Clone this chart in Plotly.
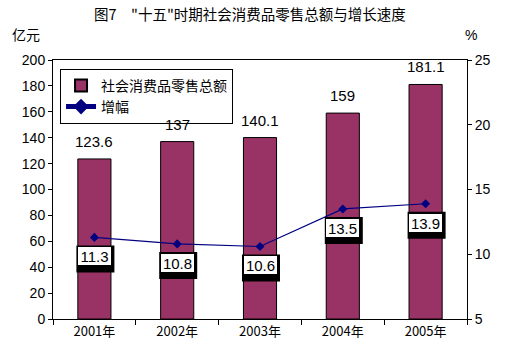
import plotly.graph_objects as go

years = ["2001年", "2002年", "2003年", "2004年", "2005年"]
sales = [123.6, 137, 140.1, 159, 181.1]
growth = [11.3, 10.8, 10.6, 13.5, 13.9]
sales_labels = ["123.6", "137", "140.1", "159", "181.1"]
growth_labels = ["11.3", "10.8", "10.6", "13.5", "13.9"]

CJK = "Noto Sans CJK SC"
NUM = "Liberation Sans, Arial"

fig = go.Figure()
fig.add_trace(go.Bar(
    x=years, y=sales, name="社会消费品零售总额",
    marker=dict(color="#993366", line=dict(color="#000000", width=1)),
    width=0.4,
))
fig.add_trace(go.Scatter(
    x=years, y=growth, name="增幅", yaxis="y2", mode="lines+markers",
    line=dict(color="#000080", width=1.2),
    marker=dict(symbol="diamond", size=7, color="#000080"),
))

# bar value labels
for yr, s, lab in zip(years, sales, sales_labels):
    fig.add_annotation(x=yr, y=s, text=lab, showarrow=False, yanchor="bottom",
                       yshift=7, font=dict(family=NUM, size=15, color="#000000"))

# growth labels: white box with black drop-shadow
OFF = -19
for yr, g, lab in zip(years, growth, growth_labels):
    fig.add_shape(type="rect", xref="x", yref="y2", xsizemode="pixel", ysizemode="pixel",
                  xanchor=yr, yanchor=g, x0=-18, x1=20, y0=OFF + 11, y1=OFF - 16,
                  fillcolor="#000000", line=dict(width=0), layer="above")
    fig.add_annotation(x=yr, y=g, yref="y2", text=lab, showarrow=False,
                       yshift=OFF, xshift=0, width=33, height=18,
                       font=dict(family=NUM, size=15, color="#000000"),
                       bgcolor="#ffffff", bordercolor="#000000", borderwidth=0, borderpad=0)

fig.add_annotation(xref="paper", yref="paper", x=0.475, y=1.18,
                   text="图7　\"十五\"时期社会消费品零售总额与增长速度",
                   showarrow=False, font=dict(family=CJK, size=14.5, color="#000000"), yanchor="middle")
fig.add_annotation(xref="paper", yref="paper", x=-0.105, y=1.1, text="亿元",
                   showarrow=False, font=dict(family=CJK, size=14, color="#000000"), yanchor="middle")
fig.add_annotation(xref="paper", yref="paper", x=1.03, y=1.095, text="%",
                   showarrow=False, font=dict(family=NUM, size=14, color="#000000"), yanchor="middle")

fig.update_layout(
    width=508, height=352,
    margin=dict(l=53, r=41, t=60, b=31),
    paper_bgcolor="#ffffff", plot_bgcolor="#ffffff",
    showlegend=True,
    legend=dict(x=0.017, y=0.966, xanchor="left", yanchor="top",
                bordercolor="#000000", borderwidth=1, bgcolor="#ffffff",
                font=dict(family=CJK, size=14, color="#000000"),
                tracegroupgap=0, itemsizing="constant"),
    xaxis=dict(type="category", tickson="boundaries", ticks="outside", ticklen=5,
               tickcolor="#000000", showline=True, linecolor="#000000", linewidth=1,
               mirror=True, showgrid=False,
               tickfont=dict(family=CJK, size=13, color="#000000")),
    yaxis=dict(range=[0, 200], dtick=20, ticks="outside", ticklen=4, tickcolor="#000000",
               showline=True, linecolor="#000000", linewidth=1, showgrid=False,
               zeroline=False, tickfont=dict(family=NUM, size=14, color="#000000")),
    yaxis2=dict(range=[5, 25], dtick=5, overlaying="y", side="right", ticks="outside",
                ticklen=4, tickcolor="#000000", showline=True, linecolor="#000000",
                linewidth=1, showgrid=False, zeroline=False,
                tickfont=dict(family=NUM, size=14, color="#000000")),
)

fig.write_html("out.html")
